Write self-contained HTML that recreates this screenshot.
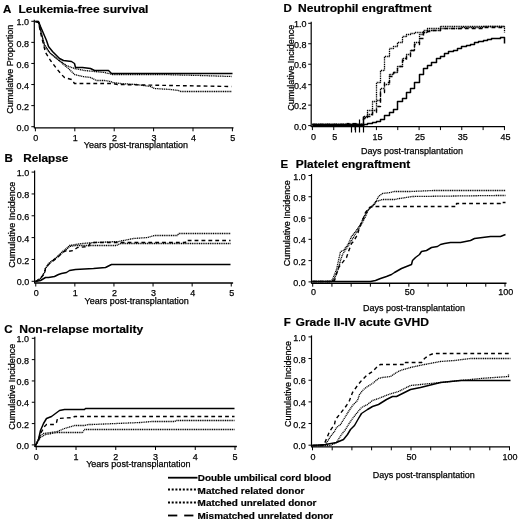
<!DOCTYPE html>
<html><head><meta charset="utf-8"><style>html,body{margin:0;padding:0;background:#fff;}svg{display:block;filter:blur(0.3px);}</style></head><body>
<svg width="520" height="522" viewBox="0 0 520 522" font-family='"Liberation Sans", sans-serif'>
<rect width="520" height="522" fill="#fff"/>
<line x1="34.3" y1="19.8" x2="34.3" y2="128.3" stroke="#000" stroke-width="1.2"/>
<line x1="34.3" y1="127.8" x2="233.5" y2="127.8" stroke="#000" stroke-width="1.35"/>
<line x1="31.299999999999997" y1="126.7" x2="34.3" y2="126.7" stroke="#000" stroke-width="1"/>
<text x="29.1" y="130.8" font-size="9.6" text-anchor="end" textLength="12.51" lengthAdjust="spacingAndGlyphs" fill="#000" stroke="#000" stroke-width="0.25">0.0</text>
<line x1="31.299999999999997" y1="105.62" x2="34.3" y2="105.62" stroke="#000" stroke-width="1"/>
<text x="29.1" y="109.7" font-size="9.6" text-anchor="end" textLength="12.51" lengthAdjust="spacingAndGlyphs" fill="#000" stroke="#000" stroke-width="0.25">0.2</text>
<line x1="31.299999999999997" y1="84.53999999999999" x2="34.3" y2="84.53999999999999" stroke="#000" stroke-width="1"/>
<text x="29.1" y="88.6" font-size="9.6" text-anchor="end" textLength="12.51" lengthAdjust="spacingAndGlyphs" fill="#000" stroke="#000" stroke-width="0.25">0.4</text>
<line x1="31.299999999999997" y1="63.459999999999994" x2="34.3" y2="63.459999999999994" stroke="#000" stroke-width="1"/>
<text x="29.1" y="67.6" font-size="9.6" text-anchor="end" textLength="12.51" lengthAdjust="spacingAndGlyphs" fill="#000" stroke="#000" stroke-width="0.25">0.6</text>
<line x1="31.299999999999997" y1="42.379999999999995" x2="34.3" y2="42.379999999999995" stroke="#000" stroke-width="1"/>
<text x="29.1" y="46.5" font-size="9.6" text-anchor="end" textLength="12.51" lengthAdjust="spacingAndGlyphs" fill="#000" stroke="#000" stroke-width="0.25">0.8</text>
<line x1="31.299999999999997" y1="21.299999999999997" x2="34.3" y2="21.299999999999997" stroke="#000" stroke-width="1"/>
<text x="29.1" y="25.4" font-size="9.6" text-anchor="end" textLength="12.51" lengthAdjust="spacingAndGlyphs" fill="#000" stroke="#000" stroke-width="0.25">1.0</text>
<line x1="35.4" y1="127.8" x2="35.4" y2="131.3" stroke="#000" stroke-width="1"/>
<line x1="74.8" y1="127.8" x2="74.8" y2="131.3" stroke="#000" stroke-width="1"/>
<line x1="114.19999999999999" y1="127.8" x2="114.19999999999999" y2="131.3" stroke="#000" stroke-width="1"/>
<line x1="153.6" y1="127.8" x2="153.6" y2="131.3" stroke="#000" stroke-width="1"/>
<line x1="193.0" y1="127.8" x2="193.0" y2="131.3" stroke="#000" stroke-width="1"/>
<line x1="232.4" y1="127.8" x2="232.4" y2="131.3" stroke="#000" stroke-width="1"/>
<text x="35.8" y="140.6" font-size="9.6" text-anchor="middle" textLength="5.0" lengthAdjust="spacingAndGlyphs" fill="#000" stroke="#000" stroke-width="0.25">0</text>
<text x="75.2" y="140.6" font-size="9.6" text-anchor="middle" textLength="5.0" lengthAdjust="spacingAndGlyphs" fill="#000" stroke="#000" stroke-width="0.25">1</text>
<text x="114.6" y="140.6" font-size="9.6" text-anchor="middle" textLength="5.0" lengthAdjust="spacingAndGlyphs" fill="#000" stroke="#000" stroke-width="0.25">2</text>
<text x="154.0" y="140.6" font-size="9.6" text-anchor="middle" textLength="5.0" lengthAdjust="spacingAndGlyphs" fill="#000" stroke="#000" stroke-width="0.25">3</text>
<text x="193.4" y="140.6" font-size="9.6" text-anchor="middle" textLength="5.0" lengthAdjust="spacingAndGlyphs" fill="#000" stroke="#000" stroke-width="0.25">4</text>
<text x="232.8" y="140.6" font-size="9.6" text-anchor="middle" textLength="5.0" lengthAdjust="spacingAndGlyphs" fill="#000" stroke="#000" stroke-width="0.25">5</text>
<text x="13.4" y="113.8" font-size="9.6" text-anchor="start" textLength="89.04" lengthAdjust="spacingAndGlyphs" transform="rotate(-90 13.4 113.8)" fill="#000" stroke="#000" stroke-width="0.25">Cumulative Proportion</text>
<text x="83.8" y="148.0" font-size="9.6" text-anchor="start" textLength="104.23" lengthAdjust="spacingAndGlyphs" fill="#000" stroke="#000" stroke-width="0.25">Years post-transplantation</text>
<text x="3.0" y="13.1" font-size="11.5" font-weight="bold" text-anchor="start" fill="#000" stroke="#000" stroke-width="0.2">A</text>
<text x="18.4" y="13.1" font-size="11.5" font-weight="bold" text-anchor="start" textLength="130.0" lengthAdjust="spacingAndGlyphs" fill="#000" stroke="#000" stroke-width="0.2">Leukemia-free survival</text>
<line x1="34.6" y1="170.6" x2="34.6" y2="283.5" stroke="#000" stroke-width="1.2"/>
<line x1="34.6" y1="283.0" x2="233.1" y2="283.0" stroke="#000" stroke-width="1.35"/>
<line x1="31.6" y1="281.3" x2="34.6" y2="281.3" stroke="#000" stroke-width="1"/>
<text x="29.3" y="285.4" font-size="9.6" text-anchor="end" textLength="12.51" lengthAdjust="spacingAndGlyphs" fill="#000" stroke="#000" stroke-width="0.25">0.0</text>
<line x1="31.6" y1="259.46000000000004" x2="34.6" y2="259.46000000000004" stroke="#000" stroke-width="1"/>
<text x="29.3" y="263.6" font-size="9.6" text-anchor="end" textLength="12.51" lengthAdjust="spacingAndGlyphs" fill="#000" stroke="#000" stroke-width="0.25">0.2</text>
<line x1="31.6" y1="237.62" x2="34.6" y2="237.62" stroke="#000" stroke-width="1"/>
<text x="29.3" y="241.7" font-size="9.6" text-anchor="end" textLength="12.51" lengthAdjust="spacingAndGlyphs" fill="#000" stroke="#000" stroke-width="0.25">0.4</text>
<line x1="31.6" y1="215.78" x2="34.6" y2="215.78" stroke="#000" stroke-width="1"/>
<text x="29.3" y="219.9" font-size="9.6" text-anchor="end" textLength="12.51" lengthAdjust="spacingAndGlyphs" fill="#000" stroke="#000" stroke-width="0.25">0.6</text>
<line x1="31.6" y1="193.94" x2="34.6" y2="193.94" stroke="#000" stroke-width="1"/>
<text x="29.3" y="198.0" font-size="9.6" text-anchor="end" textLength="12.51" lengthAdjust="spacingAndGlyphs" fill="#000" stroke="#000" stroke-width="0.25">0.8</text>
<line x1="31.6" y1="172.1" x2="34.6" y2="172.1" stroke="#000" stroke-width="1"/>
<text x="29.3" y="176.2" font-size="9.6" text-anchor="end" textLength="12.51" lengthAdjust="spacingAndGlyphs" fill="#000" stroke="#000" stroke-width="0.25">1.0</text>
<line x1="35.75" y1="283.0" x2="35.75" y2="286.5" stroke="#000" stroke-width="1"/>
<line x1="74.85" y1="283.0" x2="74.85" y2="286.5" stroke="#000" stroke-width="1"/>
<line x1="113.95" y1="283.0" x2="113.95" y2="286.5" stroke="#000" stroke-width="1"/>
<line x1="153.05" y1="283.0" x2="153.05" y2="286.5" stroke="#000" stroke-width="1"/>
<line x1="192.15" y1="283.0" x2="192.15" y2="286.5" stroke="#000" stroke-width="1"/>
<line x1="231.25" y1="283.0" x2="231.25" y2="286.5" stroke="#000" stroke-width="1"/>
<text x="36.25" y="295.8" font-size="9.6" text-anchor="middle" textLength="5.0" lengthAdjust="spacingAndGlyphs" fill="#000" stroke="#000" stroke-width="0.25">0</text>
<text x="75.35" y="295.8" font-size="9.6" text-anchor="middle" textLength="5.0" lengthAdjust="spacingAndGlyphs" fill="#000" stroke="#000" stroke-width="0.25">1</text>
<text x="114.45" y="295.8" font-size="9.6" text-anchor="middle" textLength="5.0" lengthAdjust="spacingAndGlyphs" fill="#000" stroke="#000" stroke-width="0.25">2</text>
<text x="153.55" y="295.8" font-size="9.6" text-anchor="middle" textLength="5.0" lengthAdjust="spacingAndGlyphs" fill="#000" stroke="#000" stroke-width="0.25">3</text>
<text x="192.65" y="295.8" font-size="9.6" text-anchor="middle" textLength="5.0" lengthAdjust="spacingAndGlyphs" fill="#000" stroke="#000" stroke-width="0.25">4</text>
<text x="231.75" y="295.8" font-size="9.6" text-anchor="middle" textLength="5.0" lengthAdjust="spacingAndGlyphs" fill="#000" stroke="#000" stroke-width="0.25">5</text>
<text x="14.6" y="267.7" font-size="9.6" text-anchor="start" textLength="86.04" lengthAdjust="spacingAndGlyphs" transform="rotate(-90 14.6 267.7)" fill="#000" stroke="#000" stroke-width="0.25">Cumulative Incidence</text>
<text x="84.5" y="303.8" font-size="9.6" text-anchor="start" textLength="104.23" lengthAdjust="spacingAndGlyphs" fill="#000" stroke="#000" stroke-width="0.25">Years post-transplantation</text>
<text x="4.6" y="162.4" font-size="11.5" font-weight="bold" text-anchor="start" fill="#000" stroke="#000" stroke-width="0.2">B</text>
<text x="23.2" y="162.4" font-size="11.5" font-weight="bold" text-anchor="start" textLength="45.0" lengthAdjust="spacingAndGlyphs" fill="#000" stroke="#000" stroke-width="0.2">Relapse</text>
<line x1="34.8" y1="336.8" x2="34.8" y2="447.0" stroke="#000" stroke-width="1.2"/>
<line x1="34.8" y1="446.5" x2="236.9" y2="446.5" stroke="#000" stroke-width="1.35"/>
<line x1="31.799999999999997" y1="444.9" x2="34.8" y2="444.9" stroke="#000" stroke-width="1"/>
<text x="29.0" y="449.0" font-size="9.6" text-anchor="end" textLength="12.51" lengthAdjust="spacingAndGlyphs" fill="#000" stroke="#000" stroke-width="0.25">0.0</text>
<line x1="31.799999999999997" y1="423.58" x2="34.8" y2="423.58" stroke="#000" stroke-width="1"/>
<text x="29.0" y="427.7" font-size="9.6" text-anchor="end" textLength="12.51" lengthAdjust="spacingAndGlyphs" fill="#000" stroke="#000" stroke-width="0.25">0.2</text>
<line x1="31.799999999999997" y1="402.26" x2="34.8" y2="402.26" stroke="#000" stroke-width="1"/>
<text x="29.0" y="406.4" font-size="9.6" text-anchor="end" textLength="12.51" lengthAdjust="spacingAndGlyphs" fill="#000" stroke="#000" stroke-width="0.25">0.4</text>
<line x1="31.799999999999997" y1="380.94" x2="34.8" y2="380.94" stroke="#000" stroke-width="1"/>
<text x="29.0" y="385.0" font-size="9.6" text-anchor="end" textLength="12.51" lengthAdjust="spacingAndGlyphs" fill="#000" stroke="#000" stroke-width="0.25">0.6</text>
<line x1="31.799999999999997" y1="359.62" x2="34.8" y2="359.62" stroke="#000" stroke-width="1"/>
<text x="29.0" y="363.7" font-size="9.6" text-anchor="end" textLength="12.51" lengthAdjust="spacingAndGlyphs" fill="#000" stroke="#000" stroke-width="0.25">0.8</text>
<line x1="31.799999999999997" y1="338.3" x2="34.8" y2="338.3" stroke="#000" stroke-width="1"/>
<text x="29.0" y="342.4" font-size="9.6" text-anchor="end" textLength="12.51" lengthAdjust="spacingAndGlyphs" fill="#000" stroke="#000" stroke-width="0.25">1.0</text>
<line x1="36.25" y1="446.5" x2="36.25" y2="450.0" stroke="#000" stroke-width="1"/>
<line x1="76.0" y1="446.5" x2="76.0" y2="450.0" stroke="#000" stroke-width="1"/>
<line x1="115.75" y1="446.5" x2="115.75" y2="450.0" stroke="#000" stroke-width="1"/>
<line x1="155.5" y1="446.5" x2="155.5" y2="450.0" stroke="#000" stroke-width="1"/>
<line x1="195.25" y1="446.5" x2="195.25" y2="450.0" stroke="#000" stroke-width="1"/>
<line x1="235.0" y1="446.5" x2="235.0" y2="450.0" stroke="#000" stroke-width="1"/>
<text x="36.25" y="459.5" font-size="9.6" text-anchor="middle" textLength="5.0" lengthAdjust="spacingAndGlyphs" fill="#000" stroke="#000" stroke-width="0.25">0</text>
<text x="76.0" y="459.5" font-size="9.6" text-anchor="middle" textLength="5.0" lengthAdjust="spacingAndGlyphs" fill="#000" stroke="#000" stroke-width="0.25">1</text>
<text x="115.75" y="459.5" font-size="9.6" text-anchor="middle" textLength="5.0" lengthAdjust="spacingAndGlyphs" fill="#000" stroke="#000" stroke-width="0.25">2</text>
<text x="155.5" y="459.5" font-size="9.6" text-anchor="middle" textLength="5.0" lengthAdjust="spacingAndGlyphs" fill="#000" stroke="#000" stroke-width="0.25">3</text>
<text x="195.25" y="459.5" font-size="9.6" text-anchor="middle" textLength="5.0" lengthAdjust="spacingAndGlyphs" fill="#000" stroke="#000" stroke-width="0.25">4</text>
<text x="235.0" y="459.5" font-size="9.6" text-anchor="middle" textLength="5.0" lengthAdjust="spacingAndGlyphs" fill="#000" stroke="#000" stroke-width="0.25">5</text>
<text x="14.6" y="429.7" font-size="9.6" text-anchor="start" textLength="86.04" lengthAdjust="spacingAndGlyphs" transform="rotate(-90 14.6 429.7)" fill="#000" stroke="#000" stroke-width="0.25">Cumulative Incidence</text>
<text x="86.2" y="466.7" font-size="9.6" text-anchor="start" textLength="104.23" lengthAdjust="spacingAndGlyphs" fill="#000" stroke="#000" stroke-width="0.25">Years post-transplantation</text>
<text x="4.3" y="332.6" font-size="11.5" font-weight="bold" text-anchor="start" fill="#000" stroke="#000" stroke-width="0.2">C</text>
<text x="19.3" y="332.6" font-size="11.5" font-weight="bold" text-anchor="start" textLength="124.0" lengthAdjust="spacingAndGlyphs" fill="#000" stroke="#000" stroke-width="0.2">Non-relapse mortality</text>
<line x1="311.2" y1="21.8" x2="311.2" y2="127.1" stroke="#000" stroke-width="1.2"/>
<line x1="311.2" y1="126.6" x2="505.0" y2="126.6" stroke="#000" stroke-width="1.35"/>
<line x1="308.2" y1="125.6" x2="311.2" y2="125.6" stroke="#000" stroke-width="1"/>
<text x="306.4" y="129.7" font-size="9.6" text-anchor="end" textLength="12.51" lengthAdjust="spacingAndGlyphs" fill="#000" stroke="#000" stroke-width="0.25">0.0</text>
<line x1="308.2" y1="105.13999999999999" x2="311.2" y2="105.13999999999999" stroke="#000" stroke-width="1"/>
<text x="306.4" y="109.2" font-size="9.6" text-anchor="end" textLength="12.51" lengthAdjust="spacingAndGlyphs" fill="#000" stroke="#000" stroke-width="0.25">0.2</text>
<line x1="308.2" y1="84.67999999999999" x2="311.2" y2="84.67999999999999" stroke="#000" stroke-width="1"/>
<text x="306.4" y="88.8" font-size="9.6" text-anchor="end" textLength="12.51" lengthAdjust="spacingAndGlyphs" fill="#000" stroke="#000" stroke-width="0.25">0.4</text>
<line x1="308.2" y1="64.22" x2="311.2" y2="64.22" stroke="#000" stroke-width="1"/>
<text x="306.4" y="68.3" font-size="9.6" text-anchor="end" textLength="12.51" lengthAdjust="spacingAndGlyphs" fill="#000" stroke="#000" stroke-width="0.25">0.6</text>
<line x1="308.2" y1="43.75999999999999" x2="311.2" y2="43.75999999999999" stroke="#000" stroke-width="1"/>
<text x="306.4" y="47.9" font-size="9.6" text-anchor="end" textLength="12.51" lengthAdjust="spacingAndGlyphs" fill="#000" stroke="#000" stroke-width="0.25">0.8</text>
<line x1="308.2" y1="23.299999999999997" x2="311.2" y2="23.299999999999997" stroke="#000" stroke-width="1"/>
<text x="306.4" y="27.4" font-size="9.6" text-anchor="end" textLength="12.51" lengthAdjust="spacingAndGlyphs" fill="#000" stroke="#000" stroke-width="0.25">1.0</text>
<line x1="312.4" y1="126.6" x2="312.4" y2="130.1" stroke="#000" stroke-width="1"/>
<line x1="333.73999999999995" y1="126.6" x2="333.73999999999995" y2="130.1" stroke="#000" stroke-width="1"/>
<line x1="355.08" y1="126.6" x2="355.08" y2="130.1" stroke="#000" stroke-width="1"/>
<line x1="376.41999999999996" y1="126.6" x2="376.41999999999996" y2="130.1" stroke="#000" stroke-width="1"/>
<line x1="397.76" y1="126.6" x2="397.76" y2="130.1" stroke="#000" stroke-width="1"/>
<line x1="419.09999999999997" y1="126.6" x2="419.09999999999997" y2="130.1" stroke="#000" stroke-width="1"/>
<line x1="440.43999999999994" y1="126.6" x2="440.43999999999994" y2="130.1" stroke="#000" stroke-width="1"/>
<line x1="461.78" y1="126.6" x2="461.78" y2="130.1" stroke="#000" stroke-width="1"/>
<line x1="483.12" y1="126.6" x2="483.12" y2="130.1" stroke="#000" stroke-width="1"/>
<line x1="504.46" y1="126.6" x2="504.46" y2="130.1" stroke="#000" stroke-width="1"/>
<text x="313.4" y="140.4" font-size="9.6" text-anchor="middle" textLength="5.0" lengthAdjust="spacingAndGlyphs" fill="#000" stroke="#000" stroke-width="0.25">0</text>
<text x="334.74" y="140.4" font-size="9.6" text-anchor="middle" textLength="5.0" lengthAdjust="spacingAndGlyphs" fill="#000" stroke="#000" stroke-width="0.25">5</text>
<text x="377.42" y="140.4" font-size="9.6" text-anchor="middle" textLength="10.01" lengthAdjust="spacingAndGlyphs" fill="#000" stroke="#000" stroke-width="0.25">15</text>
<text x="420.1" y="140.4" font-size="9.6" text-anchor="middle" textLength="10.01" lengthAdjust="spacingAndGlyphs" fill="#000" stroke="#000" stroke-width="0.25">25</text>
<text x="462.78" y="140.4" font-size="9.6" text-anchor="middle" textLength="10.01" lengthAdjust="spacingAndGlyphs" fill="#000" stroke="#000" stroke-width="0.25">35</text>
<text x="505.46" y="140.4" font-size="9.6" text-anchor="middle" textLength="10.01" lengthAdjust="spacingAndGlyphs" fill="#000" stroke="#000" stroke-width="0.25">45</text>
<text x="293.8" y="110.8" font-size="9.6" text-anchor="start" textLength="86.04" lengthAdjust="spacingAndGlyphs" transform="rotate(-90 293.8 110.8)" fill="#000" stroke="#000" stroke-width="0.25">Cumulative Incidence</text>
<text x="361" y="154.1" font-size="9.6" text-anchor="start" textLength="102.05" lengthAdjust="spacingAndGlyphs" fill="#000" stroke="#000" stroke-width="0.25">Days post-transplantation</text>
<text x="283.4" y="12.1" font-size="11.5" font-weight="bold" text-anchor="start" fill="#000" stroke="#000" stroke-width="0.2">D</text>
<text x="298.1" y="12.1" font-size="11.5" font-weight="bold" text-anchor="start" textLength="133.5" lengthAdjust="spacingAndGlyphs" fill="#000" stroke="#000" stroke-width="0.2">Neutrophil engraftment</text>
<line x1="311.5" y1="174.0" x2="311.5" y2="283.7" stroke="#000" stroke-width="1.2"/>
<line x1="311.5" y1="283.2" x2="506.5" y2="283.2" stroke="#000" stroke-width="1.35"/>
<line x1="308.5" y1="281.9" x2="311.5" y2="281.9" stroke="#000" stroke-width="1"/>
<text x="305.8" y="286.0" font-size="9.6" text-anchor="end" textLength="12.51" lengthAdjust="spacingAndGlyphs" fill="#000" stroke="#000" stroke-width="0.25">0.0</text>
<line x1="308.5" y1="260.62" x2="311.5" y2="260.62" stroke="#000" stroke-width="1"/>
<text x="305.8" y="264.7" font-size="9.6" text-anchor="end" textLength="12.51" lengthAdjust="spacingAndGlyphs" fill="#000" stroke="#000" stroke-width="0.25">0.2</text>
<line x1="308.5" y1="239.33999999999997" x2="311.5" y2="239.33999999999997" stroke="#000" stroke-width="1"/>
<text x="305.8" y="243.4" font-size="9.6" text-anchor="end" textLength="12.51" lengthAdjust="spacingAndGlyphs" fill="#000" stroke="#000" stroke-width="0.25">0.4</text>
<line x1="308.5" y1="218.06" x2="311.5" y2="218.06" stroke="#000" stroke-width="1"/>
<text x="305.8" y="222.2" font-size="9.6" text-anchor="end" textLength="12.51" lengthAdjust="spacingAndGlyphs" fill="#000" stroke="#000" stroke-width="0.25">0.6</text>
<line x1="308.5" y1="196.78" x2="311.5" y2="196.78" stroke="#000" stroke-width="1"/>
<text x="305.8" y="200.9" font-size="9.6" text-anchor="end" textLength="12.51" lengthAdjust="spacingAndGlyphs" fill="#000" stroke="#000" stroke-width="0.25">0.8</text>
<line x1="308.5" y1="175.5" x2="311.5" y2="175.5" stroke="#000" stroke-width="1"/>
<text x="305.8" y="179.6" font-size="9.6" text-anchor="end" textLength="12.51" lengthAdjust="spacingAndGlyphs" fill="#000" stroke="#000" stroke-width="0.25">1.0</text>
<line x1="312.7" y1="283.2" x2="312.7" y2="286.7" stroke="#000" stroke-width="1"/>
<line x1="331.93" y1="283.2" x2="331.93" y2="286.7" stroke="#000" stroke-width="1"/>
<line x1="351.15999999999997" y1="283.2" x2="351.15999999999997" y2="286.7" stroke="#000" stroke-width="1"/>
<line x1="370.39" y1="283.2" x2="370.39" y2="286.7" stroke="#000" stroke-width="1"/>
<line x1="389.62" y1="283.2" x2="389.62" y2="286.7" stroke="#000" stroke-width="1"/>
<line x1="408.85" y1="283.2" x2="408.85" y2="286.7" stroke="#000" stroke-width="1"/>
<line x1="428.08" y1="283.2" x2="428.08" y2="286.7" stroke="#000" stroke-width="1"/>
<line x1="447.31" y1="283.2" x2="447.31" y2="286.7" stroke="#000" stroke-width="1"/>
<line x1="466.53999999999996" y1="283.2" x2="466.53999999999996" y2="286.7" stroke="#000" stroke-width="1"/>
<line x1="485.77" y1="283.2" x2="485.77" y2="286.7" stroke="#000" stroke-width="1"/>
<line x1="505.0" y1="283.2" x2="505.0" y2="286.7" stroke="#000" stroke-width="1"/>
<text x="313.5" y="295.1" font-size="9.6" text-anchor="middle" textLength="5.0" lengthAdjust="spacingAndGlyphs" fill="#000" stroke="#000" stroke-width="0.25">0</text>
<text x="409.65" y="295.1" font-size="9.6" text-anchor="middle" textLength="10.01" lengthAdjust="spacingAndGlyphs" fill="#000" stroke="#000" stroke-width="0.25">50</text>
<text x="505.8" y="295.1" font-size="9.6" text-anchor="middle" textLength="15.01" lengthAdjust="spacingAndGlyphs" fill="#000" stroke="#000" stroke-width="0.25">100</text>
<text x="290.2" y="266.3" font-size="9.6" text-anchor="start" textLength="86.04" lengthAdjust="spacingAndGlyphs" transform="rotate(-90 290.2 266.3)" fill="#000" stroke="#000" stroke-width="0.25">Cumulative Incidence</text>
<text x="363" y="310.5" font-size="9.6" text-anchor="start" textLength="102.05" lengthAdjust="spacingAndGlyphs" fill="#000" stroke="#000" stroke-width="0.25">Days post-transplantation</text>
<text x="280.6" y="168.2" font-size="11.5" font-weight="bold" text-anchor="start" fill="#000" stroke="#000" stroke-width="0.2">E</text>
<text x="295.8" y="168.2" font-size="11.5" font-weight="bold" text-anchor="start" textLength="114.5" lengthAdjust="spacingAndGlyphs" fill="#000" stroke="#000" stroke-width="0.2">Platelet engraftment</text>
<line x1="311.5" y1="335.4" x2="311.5" y2="447.3" stroke="#000" stroke-width="1.2"/>
<line x1="311.5" y1="446.8" x2="510.0" y2="446.8" stroke="#000" stroke-width="1.35"/>
<line x1="308.5" y1="445.2" x2="311.5" y2="445.2" stroke="#000" stroke-width="1"/>
<text x="305.8" y="449.3" font-size="9.6" text-anchor="end" textLength="12.51" lengthAdjust="spacingAndGlyphs" fill="#000" stroke="#000" stroke-width="0.25">0.0</text>
<line x1="308.5" y1="423.53999999999996" x2="311.5" y2="423.53999999999996" stroke="#000" stroke-width="1"/>
<text x="305.8" y="427.6" font-size="9.6" text-anchor="end" textLength="12.51" lengthAdjust="spacingAndGlyphs" fill="#000" stroke="#000" stroke-width="0.25">0.2</text>
<line x1="308.5" y1="401.88" x2="311.5" y2="401.88" stroke="#000" stroke-width="1"/>
<text x="305.8" y="406.0" font-size="9.6" text-anchor="end" textLength="12.51" lengthAdjust="spacingAndGlyphs" fill="#000" stroke="#000" stroke-width="0.25">0.4</text>
<line x1="308.5" y1="380.21999999999997" x2="311.5" y2="380.21999999999997" stroke="#000" stroke-width="1"/>
<text x="305.8" y="384.3" font-size="9.6" text-anchor="end" textLength="12.51" lengthAdjust="spacingAndGlyphs" fill="#000" stroke="#000" stroke-width="0.25">0.6</text>
<line x1="308.5" y1="358.55999999999995" x2="311.5" y2="358.55999999999995" stroke="#000" stroke-width="1"/>
<text x="305.8" y="362.7" font-size="9.6" text-anchor="end" textLength="12.51" lengthAdjust="spacingAndGlyphs" fill="#000" stroke="#000" stroke-width="0.25">0.8</text>
<line x1="308.5" y1="336.9" x2="311.5" y2="336.9" stroke="#000" stroke-width="1"/>
<text x="305.8" y="341.0" font-size="9.6" text-anchor="end" textLength="12.51" lengthAdjust="spacingAndGlyphs" fill="#000" stroke="#000" stroke-width="0.25">1.0</text>
<line x1="312.5" y1="446.8" x2="312.5" y2="450.3" stroke="#000" stroke-width="1"/>
<line x1="332.2" y1="446.8" x2="332.2" y2="450.3" stroke="#000" stroke-width="1"/>
<line x1="351.9" y1="446.8" x2="351.9" y2="450.3" stroke="#000" stroke-width="1"/>
<line x1="371.6" y1="446.8" x2="371.6" y2="450.3" stroke="#000" stroke-width="1"/>
<line x1="391.3" y1="446.8" x2="391.3" y2="450.3" stroke="#000" stroke-width="1"/>
<line x1="411.0" y1="446.8" x2="411.0" y2="450.3" stroke="#000" stroke-width="1"/>
<line x1="430.7" y1="446.8" x2="430.7" y2="450.3" stroke="#000" stroke-width="1"/>
<line x1="450.4" y1="446.8" x2="450.4" y2="450.3" stroke="#000" stroke-width="1"/>
<line x1="470.1" y1="446.8" x2="470.1" y2="450.3" stroke="#000" stroke-width="1"/>
<line x1="489.79999999999995" y1="446.8" x2="489.79999999999995" y2="450.3" stroke="#000" stroke-width="1"/>
<line x1="509.5" y1="446.8" x2="509.5" y2="450.3" stroke="#000" stroke-width="1"/>
<text x="313.0" y="459.8" font-size="9.6" text-anchor="middle" textLength="5.0" lengthAdjust="spacingAndGlyphs" fill="#000" stroke="#000" stroke-width="0.25">0</text>
<text x="411.5" y="459.8" font-size="9.6" text-anchor="middle" textLength="10.01" lengthAdjust="spacingAndGlyphs" fill="#000" stroke="#000" stroke-width="0.25">50</text>
<text x="510.0" y="459.8" font-size="9.6" text-anchor="middle" textLength="15.01" lengthAdjust="spacingAndGlyphs" fill="#000" stroke="#000" stroke-width="0.25">100</text>
<text x="290.8" y="427.0" font-size="9.6" text-anchor="start" textLength="86.04" lengthAdjust="spacingAndGlyphs" transform="rotate(-90 290.8 427.0)" fill="#000" stroke="#000" stroke-width="0.25">Cumulative Incidence</text>
<text x="372.8" y="477.5" font-size="9.6" text-anchor="start" textLength="102.05" lengthAdjust="spacingAndGlyphs" fill="#000" stroke="#000" stroke-width="0.25">Days post-transplantation</text>
<text x="283.8" y="326.3" font-size="11.5" font-weight="bold" text-anchor="start" fill="#000" stroke="#000" stroke-width="0.2">F</text>
<text x="295.5" y="326.3" font-size="11.5" font-weight="bold" text-anchor="start" textLength="133.5" lengthAdjust="spacingAndGlyphs" fill="#000" stroke="#000" stroke-width="0.2">Grade II-IV acute GVHD</text>
<line x1="168" y1="477.7" x2="197.5" y2="477.7" stroke="#000" stroke-width="1.8"/>
<line x1="168.0" y1="489.5" x2="198.0" y2="489.5" stroke="#000" stroke-width="2.1" stroke-dasharray="2 1.7"/>
<line x1="168.0" y1="502.5" x2="198.0" y2="502.5" stroke="#000" stroke-width="2.1" stroke-dasharray="2 1.7"/>
<line x1="168" y1="515.5" x2="177.3" y2="515.5" stroke="#000" stroke-width="1.8"/>
<line x1="184.2" y1="515.5" x2="193.4" y2="515.5" stroke="#000" stroke-width="1.8"/>
<text x="197.8" y="481.0" font-size="9.3" font-weight="bold" text-anchor="start" textLength="133.2" lengthAdjust="spacingAndGlyphs" fill="#000" stroke="#000" stroke-width="0.2">Double umbilical cord blood</text>
<text x="197.6" y="493.8" font-size="9.3" font-weight="bold" text-anchor="start" textLength="106.8" lengthAdjust="spacingAndGlyphs" fill="#000" stroke="#000" stroke-width="0.2">Matched related donor</text>
<text x="197.6" y="506.2" font-size="9.3" font-weight="bold" text-anchor="start" textLength="118.8" lengthAdjust="spacingAndGlyphs" fill="#000" stroke="#000" stroke-width="0.2">Matched unrelated donor</text>
<text x="197.6" y="519.3" font-size="9.3" font-weight="bold" text-anchor="start" textLength="135.6" lengthAdjust="spacingAndGlyphs" fill="#000" stroke="#000" stroke-width="0.2">Mismatched unrelated donor</text>
<polyline points="35.5,21.5 38.5,21.5 40.5,26.5 43.5,33.5 46.5,40.5 48.5,46.5 52.5,51.5 55.5,54.5 59.5,58.5 63.5,60.5 71.5,61.5 74.5,63.5 75.5,67.5 82.5,67.5 90.5,68.5 94.5,70.5 108.5,70.5 111.5,73.5 232.5,73.5" fill="none" stroke="#000" stroke-width="1.5" stroke-linejoin="round"/>
<polyline points="35.5,21.5 38.5,21.5 40.5,28.5 44.5,46.5 49.5,52.5 55.5,57.5 66.5,65.5 74.5,68.5 84.5,70.5 94.5,71.5 104.5,72.5 112.5,74.5 160.5,74.5 200.5,75.5 231.5,76.5" fill="none" stroke="#000" stroke-width="1.3" stroke-linejoin="round" stroke-dasharray="1.1 0.7"/>
<polyline points="35.5,21.5 38.5,22.5 40.5,30.5 44.5,44.5 50.5,53.5 56.5,58.5 63.5,64.5 68.5,68.5 74.5,74.5 82.5,76.5 90.5,77.5 96.5,80.5 104.5,80.5 110.5,81.5 112.5,82.5 120.5,83.5 136.5,84.5 150.5,86.5 154.5,88.5 170.5,89.5 178.5,90.5 180.5,91.5 231.5,91.5" fill="none" stroke="#000" stroke-width="1.3" stroke-linejoin="round" stroke-dasharray="1.1 0.7"/>
<polyline points="35.5,21.5 38.5,22.5 40.5,32.5 45.5,52.5 50.5,60.5 56.5,68.5 61.5,74.5 64.5,77.5 71.5,79.5 74.5,83.5 112.5,83.5 117.5,84.5 170.5,85.5 231.5,86.5" fill="none" stroke="#000" stroke-width="1.4" stroke-linejoin="round" stroke-dasharray="3.8 3.1"/>
<polyline points="35.5,281.5 40.5,280.5 45.5,277.5 48.5,277.5 54.5,276.5 58.5,274.5 61.5,273.5 66.5,272.5 69.5,270.5 75.5,269.5 93.5,268.5 105.5,267.5 111.5,264.5 230.5,264.5" fill="none" stroke="#000" stroke-width="1.5" stroke-linejoin="round"/>
<polyline points="35.5,281.5 40.5,278.5 44.5,272.5 45.5,268.5 48.5,263.5 52.5,260.5 58.5,255.5 62.5,251.5 66.5,248.5 69.5,245.5 75.5,244.5 82.5,243.5 94.5,242.5 118.5,241.5 133.5,238.5 147.5,237.5 154.5,235.5 177.5,235.5 178.5,233.5 230.5,233.5" fill="none" stroke="#000" stroke-width="1.3" stroke-linejoin="round" stroke-dasharray="1.1 0.7"/>
<polyline points="35.5,281.5 40.5,278.5 44.5,272.5 45.5,268.5 48.5,264.5 52.5,260.5 58.5,256.5 62.5,252.5 66.5,249.5 69.5,246.5 75.5,245.5 90.5,245.5 116.5,245.5 120.5,243.5 230.5,243.5" fill="none" stroke="#000" stroke-width="1.3" stroke-linejoin="round" stroke-dasharray="1.1 0.7"/>
<polyline points="35.5,281.5 40.5,278.5 44.5,273.5 45.5,268.5 48.5,264.5 52.5,261.5 58.5,256.5 62.5,252.5 66.5,250.5 67.5,251.5 73.5,250.5 77.5,247.5 88.5,246.5 90.5,242.5 185.5,242.5 185.5,240.5 230.5,240.5" fill="none" stroke="#000" stroke-width="1.4" stroke-linejoin="round" stroke-dasharray="3.8 3.1"/>
<polyline points="35.5,445.5 38.5,439.5 40.5,430.5 43.5,423.5 46.5,418.5 51.5,416.5 55.5,413.5 59.5,410.5 64.5,409.5 84.5,409.5 85.5,408.5 234.5,408.5" fill="none" stroke="#000" stroke-width="1.5" stroke-linejoin="round"/>
<polyline points="35.5,445.5 38.5,440.5 40.5,433.5 43.5,428.5 44.5,426.5 46.5,424.5 54.5,424.5 56.5,422.5 57.5,418.5 73.5,417.5 74.5,416.5 234.5,416.5" fill="none" stroke="#000" stroke-width="1.4" stroke-linejoin="round" stroke-dasharray="3.8 3.1"/>
<polyline points="35.5,445.5 39.5,436.5 43.5,433.5 57.5,431.5 64.5,428.5 74.5,425.5 84.5,425.5 88.5,424.5 92.5,424.5 116.5,423.5 140.5,422.5 151.5,421.5 174.5,421.5 176.5,420.5 234.5,420.5" fill="none" stroke="#000" stroke-width="1.3" stroke-linejoin="round" stroke-dasharray="1.1 0.7"/>
<polyline points="35.5,445.5 40.5,437.5 45.5,434.5 57.5,432.5 60.5,432.5 82.5,432.5 84.5,429.5 234.5,429.5" fill="none" stroke="#000" stroke-width="1.3" stroke-linejoin="round" stroke-dasharray="1.1 0.7"/>
<polyline points="312.5,124.5 363.5,124.5 363.5,124.5 367.5,124.5 367.5,123.5 372.5,123.5 372.5,122.5 376.5,122.5 376.5,121.5 380.5,121.5 380.5,119.5 384.5,119.5 384.5,115.5 389.5,115.5 389.5,112.5 393.5,112.5 393.5,109.5 397.5,109.5 397.5,101.5 402.5,101.5 402.5,98.5 406.5,98.5 406.5,92.5 410.5,92.5 410.5,88.5 414.5,88.5 414.5,82.5 419.5,82.5 419.5,74.5 423.5,74.5 423.5,68.5 427.5,68.5 427.5,65.5 431.5,65.5 431.5,62.5 436.5,62.5 436.5,58.5 440.5,58.5 440.5,56.5 444.5,56.5 444.5,53.5 448.5,53.5 448.5,51.5 453.5,51.5 453.5,50.5 457.5,50.5 457.5,48.5 461.5,48.5 461.5,46.5 466.5,46.5 466.5,45.5 470.5,45.5 470.5,44.5 474.5,44.5 474.5,42.5 478.5,42.5 478.5,41.5 483.5,41.5 483.5,40.5 487.5,40.5 487.5,39.5 491.5,39.5 491.5,38.5 495.5,38.5 495.5,38.5 500.5,38.5 500.5,37.5 504.5,37.5 504.5,43.5" fill="none" stroke="#000" stroke-width="1.5" stroke-linejoin="round"/>
<polyline points="312.5,124.5 363.5,124.5 363.5,117.5 367.5,117.5 367.5,110.5 372.5,110.5 372.5,101.5 376.5,101.5 376.5,82.5 380.5,82.5 380.5,70.5 384.5,70.5 384.5,56.5 389.5,56.5 389.5,48.5 393.5,48.5 393.5,46.5 397.5,46.5 397.5,42.5 402.5,42.5 402.5,36.5 406.5,36.5 406.5,34.5 410.5,34.5 410.5,33.5 414.5,33.5 414.5,32.5 419.5,32.5 419.5,32.5 423.5,32.5 423.5,30.5 427.5,30.5 427.5,28.5 431.5,28.5 431.5,28.5 440.5,28.5 440.5,26.5 461.5,26.5 461.5,26.5 483.5,26.5 483.5,26.5 504.5,26.5 504.5,32.5" fill="none" stroke="#000" stroke-width="1.3" stroke-linejoin="round" stroke-dasharray="1.1 0.7"/>
<polyline points="312.5,124.5 363.5,124.5 363.5,116.5 367.5,116.5 367.5,114.5 372.5,114.5 372.5,110.5 376.5,110.5 376.5,100.5 380.5,100.5 380.5,88.5 384.5,88.5 384.5,84.5 389.5,84.5 389.5,74.5 393.5,74.5 393.5,72.5 397.5,72.5 397.5,66.5 402.5,66.5 402.5,58.5 406.5,58.5 406.5,54.5 410.5,54.5 410.5,50.5 414.5,50.5 414.5,42.5 419.5,42.5 419.5,34.5 423.5,34.5 423.5,32.5 427.5,32.5 427.5,30.5 431.5,30.5 431.5,30.5 440.5,30.5 440.5,28.5 461.5,28.5 461.5,27.5 483.5,27.5 483.5,26.5 504.5,26.5" fill="none" stroke="#000" stroke-width="1.3" stroke-linejoin="round" stroke-dasharray="1.1 0.7"/>
<polyline points="312.5,124.5 363.5,124.5 363.5,118.5 367.5,118.5 367.5,116.5 372.5,116.5 372.5,112.5 376.5,112.5 376.5,106.5 380.5,106.5 380.5,92.5 384.5,92.5 384.5,82.5 389.5,82.5 389.5,76.5 393.5,76.5 393.5,72.5 397.5,72.5 397.5,66.5 402.5,66.5 402.5,60.5 406.5,60.5 406.5,56.5 410.5,56.5 410.5,50.5 414.5,50.5 414.5,44.5 419.5,44.5 419.5,38.5 423.5,38.5 423.5,32.5 427.5,32.5 427.5,31.5 431.5,31.5 431.5,30.5 440.5,30.5 440.5,28.5 461.5,28.5 461.5,28.5 483.5,28.5 483.5,27.5 504.5,27.5" fill="none" stroke="#000" stroke-width="1.4" stroke-linejoin="round" stroke-dasharray="3.8 3.1"/>
<polyline points="312.4,125.5 364.5,125.5" fill="none" stroke="#000" stroke-width="3" stroke-linejoin="round"/>
<polyline points="351.5,124.5 351.5,132.5" fill="none" stroke="#000" stroke-width="1.2" stroke-linejoin="round"/>
<polyline points="355.5,124.5 355.5,132.5" fill="none" stroke="#000" stroke-width="1.2" stroke-linejoin="round"/>
<polyline points="359.5,119.5 359.5,132.5" fill="none" stroke="#000" stroke-width="1.2" stroke-linejoin="round"/>
<polyline points="363.5,116.5 363.5,132.5" fill="none" stroke="#000" stroke-width="1.2" stroke-linejoin="round"/>
<polyline points="346.5,123.5 349.5,123.5" fill="none" stroke="#000" stroke-width="1.2" stroke-linejoin="round"/>
<polyline points="352.5,123.5 356.5,123.5" fill="none" stroke="#000" stroke-width="1.2" stroke-linejoin="round"/>
<polyline points="312.5,281.5 370.5,281.5 375.5,280.5 380.5,278.5 386.5,276.5 391.5,274.5 394.5,272.5 401.5,268.5 406.5,266.5 411.5,264.5 412.5,260.5 415.5,257.5 419.5,254.5 421.5,251.5 426.5,250.5 431.5,247.5 437.5,246.5 440.5,244.5 444.5,243.5 450.5,242.5 460.5,242.5 470.5,240.5 474.5,238.5 490.5,236.5 500.5,236.5 505.5,234.5" fill="none" stroke="#000" stroke-width="1.5" stroke-linejoin="round"/>
<polyline points="312.5,281.5 330.5,281.5 332.5,279.5 336.5,269.5 338.5,260.5 340.5,251.5 343.5,250.5 348.5,243.5 351.5,236.5 355.5,231.5 360.5,224.5 363.5,217.5 367.5,210.5 372.5,205.5 376.5,200.5 378.5,196.5 382.5,193.5 390.5,192.5 394.5,191.5 410.5,191.5 433.5,190.5 505.5,190.5" fill="none" stroke="#000" stroke-width="1.3" stroke-linejoin="round" stroke-dasharray="1.1 0.7"/>
<polyline points="312.5,281.5 331.5,281.5 334.5,278.5 338.5,268.5 340.5,260.5 342.5,254.5 346.5,248.5 350.5,242.5 354.5,235.5 357.5,230.5 362.5,222.5 365.5,216.5 368.5,209.5 374.5,204.5 376.5,201.5 382.5,199.5 394.5,199.5 399.5,198.5 412.5,196.5 496.5,195.5 505.5,195.5" fill="none" stroke="#000" stroke-width="1.3" stroke-linejoin="round" stroke-dasharray="1.1 0.7"/>
<polyline points="312.5,281.5 331.5,281.5 334.5,280.5 338.5,267.5 346.5,257.5 348.5,251.5 351.5,243.5 353.5,241.5 357.5,234.5 359.5,227.5 362.5,220.5 365.5,212.5 369.5,207.5 372.5,206.5 456.5,206.5 456.5,203.5 500.5,203.5 500.5,202.5 505.5,202.5" fill="none" stroke="#000" stroke-width="1.4" stroke-linejoin="round" stroke-dasharray="3.8 3.1"/>
<polyline points="312.5,445.5 325.5,444.5 336.5,442.5 343.5,439.5 347.5,434.5 350.5,429.5 354.5,425.5 358.5,418.5 361.5,413.5 367.5,409.5 372.5,406.5 378.5,404.5 386.5,399.5 392.5,396.5 396.5,396.5 410.5,389.5 420.5,387.5 440.5,382.5 460.5,380.5 510.5,380.5" fill="none" stroke="#000" stroke-width="1.5" stroke-linejoin="round"/>
<polyline points="312.5,445.5 322.5,445.5 324.5,443.5 327.5,436.5 329.5,431.5 334.5,424.5 335.5,419.5 339.5,414.5 343.5,409.5 346.5,405.5 349.5,400.5 352.5,392.5 357.5,385.5 361.5,380.5 366.5,375.5 372.5,371.5 378.5,365.5 380.5,364.5 385.5,364.5 405.5,364.5 405.5,362.5 421.5,362.5 424.5,358.5 428.5,355.5 433.5,353.5 510.5,353.5" fill="none" stroke="#000" stroke-width="1.4" stroke-linejoin="round" stroke-dasharray="3.8 3.1"/>
<polyline points="312.5,445.5 322.5,445.5 325.5,444.5 330.5,436.5 334.5,431.5 336.5,427.5 340.5,424.5 345.5,416.5 348.5,411.5 352.5,405.5 357.5,400.5 359.5,394.5 363.5,389.5 367.5,386.5 372.5,383.5 378.5,378.5 382.5,377.5 390.5,376.5 396.5,372.5 400.5,370.5 410.5,367.5 424.5,364.5 440.5,361.5 454.5,360.5 470.5,358.5 474.5,358.5 510.5,358.5" fill="none" stroke="#000" stroke-width="1.3" stroke-linejoin="round" stroke-dasharray="1.1 0.7"/>
<polyline points="312.5,445.5 330.5,445.5 336.5,442.5 341.5,434.5 345.5,429.5 348.5,424.5 352.5,418.5 356.5,413.5 361.5,407.5 367.5,404.5 372.5,400.5 378.5,398.5 388.5,394.5 398.5,391.5 410.5,385.5 420.5,384.5 440.5,382.5 460.5,380.5 480.5,378.5 508.5,376.5 508.5,374.5" fill="none" stroke="#000" stroke-width="1.3" stroke-linejoin="round" stroke-dasharray="1.1 0.7"/>
</svg>
</body></html>
